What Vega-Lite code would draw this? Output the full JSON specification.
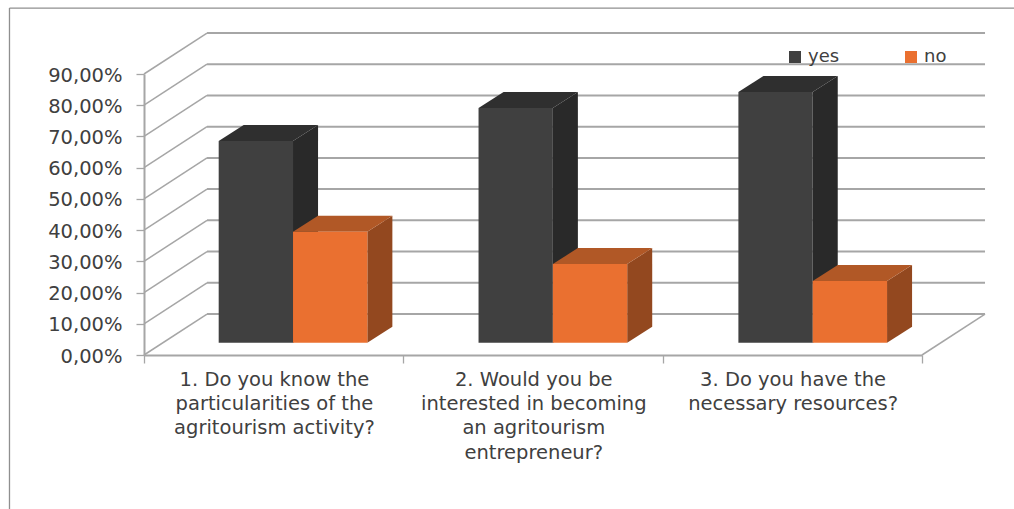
{
"$schema":"https://vega.github.io/schema/vega-lite/v6.json",
"width":778,"height":281,
"autosize":{"type":"none"},
"padding":{"left":144,"top":74,"right":92,"bottom":154},
"background":"white",
"config":{"view":{"stroke":null},"font":"DejaVu Sans",
 "axisX":{"tickCount":3,"labels":false,"grid":false,"tickSize":8,"tickColor":"#a6a6a6","domainColor":"#a6a6a6","domainWidth":2,"tickWidth":1.3},
 "axisY":{"tickCount":9,"grid":false,"tickSize":8,"tickColor":"#a6a6a6","domainColor":"#a6a6a6","domainWidth":2,"tickWidth":1.3,"labelFont":"DejaVu Sans","labelFontSize":19.5,"labelColor":"#404040","labelPadding":14,"labelOffset":1,"labelExpr":"replace(format(datum.value,'.2f'),'.',',')+'%'"}},
"datasets":{
"bars":[
{"category":0,"series":"yes","s":0,"value":64.6},
{"category":0,"series":"no","s":1,"value":35.5},
{"category":1,"series":"yes","s":0,"value":75.2},
{"category":1,"series":"no","s":1,"value":25.2},
{"category":2,"series":"yes","s":0,"value":80.3},
{"category":2,"series":"no","s":1,"value":19.8}
],
"levels":[{"level":0},{"level":10},{"level":20},{"level":30},{"level":40},{"level":50},{"level":60},{"level":70},{"level":80},{"level":90}],
"questions":[
{"category":0,"label":"1. Do you know the\nparticularities of the\nagritourism activity?"},
{"category":1,"label":"2. Would you be\ninterested in becoming\nan agritourism\nentrepreneur?"},
{"category":2,"label":"3. Do you have the\nnecessary resources?"}
]
},
"layer":[
{"data":{"values":[{}]},"mark":{"type":"rule","color":"#8f8f8f","strokeWidth":1.3,"clip":false},
 "encoding":{"x":{"datum":-0.5187,"type":"quantitative","scale":{"domain":[0,3],"nice":false,"zero":false},"axis":{"title":null}},
   "y":{"datum":111.1,"type":"quantitative","scale":{"domain":[0,90],"nice":false,"zero":false},"axis":{"title":null}},
   "y2":{"datum":-49.3}}},
{"data":{"values":[{}]},"mark":{"type":"rule","color":"#8f8f8f","strokeWidth":1.3,"clip":false},
 "encoding":{"x":{"datum":-0.5187,"type":"quantitative","axis":{"title":null}},"x2":{"datum":3.355},"y":{"datum":111.1,"type":"quantitative","axis":{"title":null}}}},
{"data":{"name":"levels"},"transform":[{"calculate":"datum.level+13.13","as":"yb"},{"calculate":"0.243","as":"x0"},{"calculate":"3.243","as":"x1"}],
 "mark":{"type":"rule","color":"#a6a6a6","strokeWidth":2,"clip":false},
 "encoding":{"x":{"field":"x0","type":"quantitative","axis":{"title":null}},"x2":{"field":"x1"},"y":{"field":"yb","type":"quantitative","axis":{"title":null}}}},
{"data":{"name":"levels"},"transform":[{"calculate":"datum.level+13.13","as":"yb"},{"calculate":"0","as":"x0"},{"calculate":"0.243","as":"x1"}],
 "mark":{"type":"rule","color":"#a6a6a6","strokeWidth":1.5,"clip":false},
 "encoding":{"x":{"field":"x0","type":"quantitative","axis":{"title":null}},"x2":{"field":"x1"},"y":{"field":"level","type":"quantitative","axis":{"title":null}},"y2":{"field":"yb"}}},
{"data":{"values":[{}]},"mark":{"type":"rule","color":"#a6a6a6","strokeWidth":1.5,"clip":false},
 "encoding":{"x":{"datum":3,"type":"quantitative","axis":{"title":null}},"x2":{"datum":3.243},"y":{"datum":0,"type":"quantitative","axis":{"title":null}},"y2":{"datum":13.13}}},
{"data":{"name":"bars"},
 "transform":[{"calculate":"[0,1]","as":"t"},{"flatten":["t"]},
  {"calculate":"datum.category*1.002+0.288+(datum.s+1)*0.2866+datum.t*0.0965","as":"xs"},
  {"calculate":"datum.value+3.94+datum.t*5.12","as":"ytop"},
  {"calculate":"3.94+datum.t*5.12","as":"ybot"},
  {"calculate":"datum.category+'-'+datum.series","as":"key"}],
 "mark":{"type":"area","clip":false,"interpolate":"linear"},
 "encoding":{"x":{"field":"xs","type":"quantitative","axis":{"title":null}},"y":{"field":"ytop","type":"quantitative","axis":{"title":null},"stack":null},"y2":{"field":"ybot"},"detail":{"field":"key"},
  "color":{"condition":{"test":"datum.series==='yes'","value":"#292929"},"value":"#93481f"}}},
{"data":{"name":"bars"},
 "transform":[{"calculate":"[0,1]","as":"t"},{"flatten":["t"]},
  {"calculate":"datum.category*1.002+0.288+datum.s*0.2866+datum.t*0.0965","as":"xl"},
  {"calculate":"datum.category*1.002+0.288+(datum.s+1)*0.2866+datum.t*0.0965","as":"xr"},
  {"calculate":"datum.value+3.94+datum.t*5.12","as":"ytop"},
  {"calculate":"datum.category+'-'+datum.series","as":"key"}],
 "mark":{"type":"area","orient":"horizontal","clip":false,"interpolate":"linear"},
 "encoding":{"y":{"field":"ytop","type":"quantitative","axis":{"title":null}},"x":{"field":"xl","type":"quantitative","axis":{"title":null},"stack":null},"x2":{"field":"xr"},"detail":{"field":"key"},
  "color":{"condition":{"test":"datum.series==='yes'","value":"#2f2f2f"},"value":"#b15826"}}},
{"data":{"name":"bars"},
 "transform":[
  {"calculate":"datum.category*1.002+0.288+datum.s*0.2866","as":"xl"},
  {"calculate":"datum.category*1.002+0.288+(datum.s+1)*0.2866","as":"xr"},
  {"calculate":"datum.value+3.94","as":"ytop"},
  {"calculate":"3.94","as":"ybot"}],
 "mark":{"type":"rect","clip":false},
 "encoding":{"x":{"field":"xl","type":"quantitative","axis":{"title":null}},"x2":{"field":"xr"},"y":{"field":"ytop","type":"quantitative","axis":{"title":null}},"y2":{"field":"ybot"},
  "color":{"field":"series","type":"nominal","scale":{"domain":["yes","no"],"range":["#404040","#ea7030"]},
   "legend":{"title":null,"orient":"none","legendX":642,"legendY":-26,"direction":"horizontal","columns":2,"columnPadding":62,"symbolType":"square","symbolSize":144,"symbolStrokeWidth":0,"labelFont":"DejaVu Sans","labelFontSize":18,"labelColor":"#404040","labelOffset":4,"symbolOpacity":1}}}},
{"data":{"name":"questions"},
 "transform":[{"calculate":"datum.category+0.503","as":"xc"},{"calculate":"-5","as":"yl"}],
 "mark":{"type":"text","baseline":"top","align":"center","lineBreak":"\n","lineHeight":24.3,"font":"DejaVu Sans","fontSize":19.5,"color":"#404040","clip":false},
 "encoding":{"x":{"field":"xc","type":"quantitative","axis":{"title":null}},"y":{"field":"yl","type":"quantitative","axis":{"title":null}},"text":{"field":"label"}}}
]
}
